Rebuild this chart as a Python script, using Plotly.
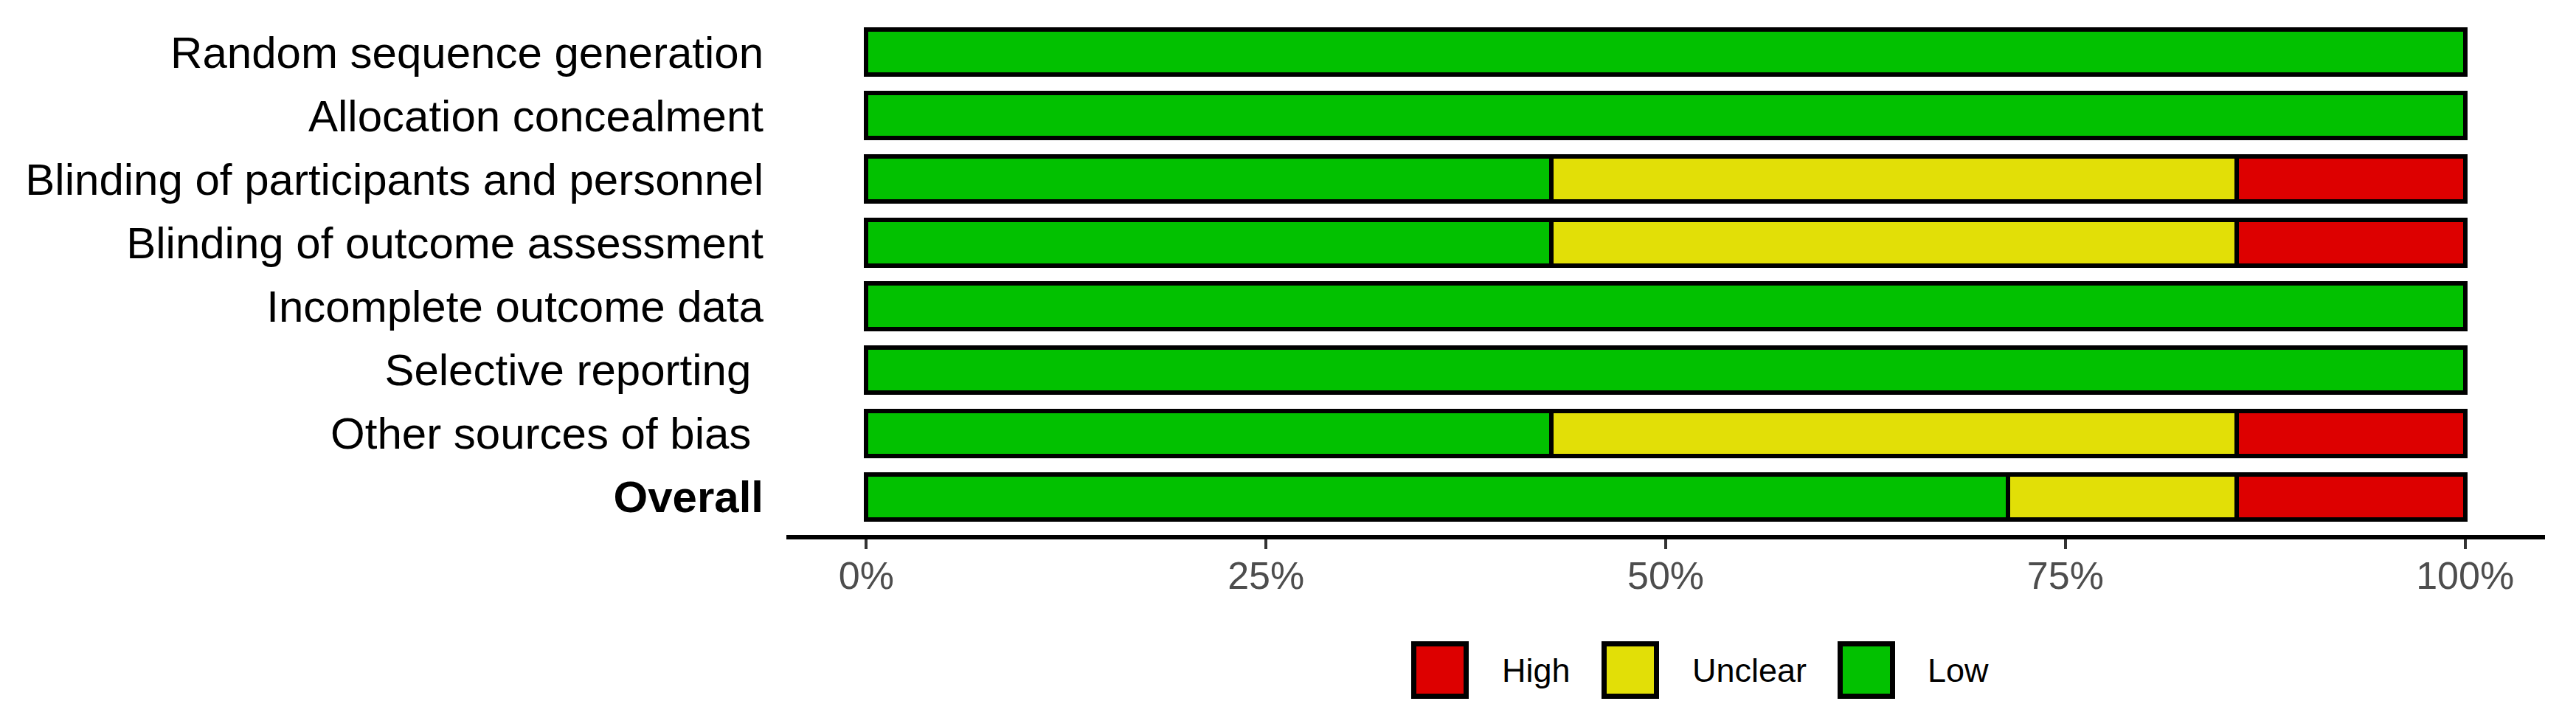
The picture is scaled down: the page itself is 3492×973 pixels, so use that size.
import plotly.graph_objects as go

# ---- data ----
domains = [
    "Random sequence generation",
    "Allocation concealment",
    "Blinding of participants and personnel",
    "Blinding of outcome assessment",
    "Incomplete outcome data",
    "Selective reporting\u00a0",
    "Other sources of bias\u00a0",
    "<b>Overall</b>",
]
# number of studies (of 7) per judgement
low_counts = [7, 7, 3, 3, 7, 7, 3, 5]
unclear_counts = [None, None, 3, 3, None, None, 3, 1]
high_counts = [None, None, 1, 1, None, None, 1, 1]

judgements = ["High", "Unclear", "Low"]
colors = {"Low": "#02C100", "Unclear": "#E2DF07", "High": "#DD0000"}
x_ticks = [0, 0.25, 0.5, 0.75, 1.0]
x_tick_labels = ["0%", "25%", "50%", "75%", "100%"]

FONT = "Liberation Sans, Arial, Helvetica, sans-serif"
W, H = 3492, 973
OFF = 8  # default page body margin
# target plot area in page pixels
PX0, PX1, PY0, PY1 = 1066, 3450, 19, 725
L = PX0 - OFF
R = W - (PX1 - OFF)
T = PY0 - OFF
B = H - (PY1 - OFF)
plot_w = PX1 - PX0
plot_h = PY1 - PY0

fig = go.Figure()
for name, vals in [("Low", low_counts), ("Unclear", unclear_counts), ("High", high_counts)]:
    fig.add_trace(go.Bar(
        y=domains, x=vals, name=name, orientation="h",
        marker=dict(color=colors[name], line=dict(color="black", width=6)),
        width=0.71, showlegend=False,
    ))

fig.update_layout(
    width=W, height=H,
    barmode="stack", barnorm="fraction",
    plot_bgcolor="white", paper_bgcolor="white",
    margin=dict(l=L, r=R, t=T, b=B, pad=0),
    font=dict(family=FONT, color="black"),
)
fig.update_xaxes(
    range=[-0.05, 1.05], tickvals=x_ticks, ticktext=x_tick_labels,
    showgrid=False, zeroline=False,
    showline=True, linecolor="black", linewidth=6,
    ticks="outside", ticklen=13, tickwidth=4, tickcolor="#333333",
    tickfont=dict(size=52, color="#4D4D4D", family=FONT),
    ticklabelstandoff=-8,
)
fig.update_yaxes(
    categoryorder="array", categoryarray=domains,
    range=[7.6, -0.6], showgrid=False, zeroline=False, showline=False,
    ticks="", tickfont=dict(size=60, color="black", family=FONT),
    ticklabelstandoff=30,
)

# ---- custom legend (large square keys like the reference) ----
def px_x(p):
    return (p - PX0) / plot_w

def px_y(p):
    return (PY1 - p) / plot_h

legend_square_center = {"High": 1952, "Unclear": 2210, "Low": 2530}
legend_text_left = {"High": 2037, "Unclear": 2295, "Low": 2614}
sq = 71
cy = 908
shapes = []
annotations = []
for name in judgements:
    cx = legend_square_center[name]
    shapes.append(dict(
        type="rect", xref="paper", yref="paper",
        x0=px_x(cx - sq / 2), x1=px_x(cx + sq / 2),
        y0=px_y(cy + sq / 2), y1=px_y(cy - sq / 2),
        fillcolor=colors[name], line=dict(color="black", width=7),
    ))
    annotations.append(dict(
        text=name, xref="paper", yref="paper", x=px_x(legend_text_left[name]),
        y=px_y(cy), xanchor="left", yanchor="middle", showarrow=False,
        font=dict(size=45, color="black", family=FONT),
        xshift=-3,
    ))
fig.update_layout(shapes=shapes, annotations=annotations)

fig.write_html("out.html")
